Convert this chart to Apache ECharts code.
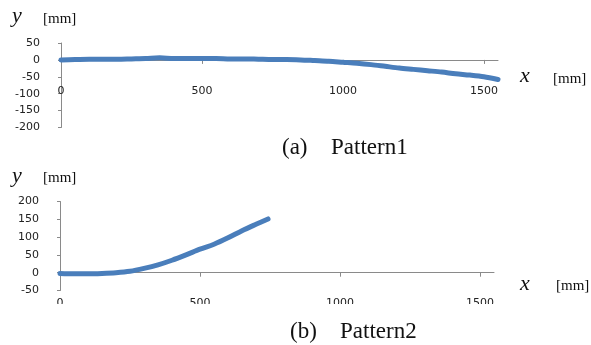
<!DOCTYPE html>
<html>
<head>
<meta charset="utf-8">
<script src="https://cdn.jsdelivr.net/npm/echarts@6/dist/echarts.min.js"></script>
<style>
html,body{margin:0;padding:0;background:#fff;}
#c{width:591px;height:345px;}
</style>
</head>
<body>
<div id="c"></div>
<script>
// Pattern1 (a)
var xA = [0, 50, 100, 150, 200, 250, 300, 350, 400, 450, 500, 550, 600, 650, 700, 750, 800, 850, 900, 950, 1000, 1050, 1100, 1150, 1200, 1250, 1300, 1350, 1400, 1450, 1500, 1550];
var yA = [0, 1, 2, 2, 2, 3, 4, 6, 4, 4, 4, 4, 3, 3, 2, 1, 1, 0, -2, -4, -7, -10, -14, -19, -24, -28, -32, -36, -41, -45, -50, -58];
// Pattern2 (b)
var xB = [0, 50, 100, 150, 200, 250, 300, 350, 400, 450, 500, 550, 600, 650, 700, 743];
var yB = [-2, -3, -3, -2, 0, 4, 12, 22, 35, 50, 66, 80, 98, 118, 136, 151];
var xTicks = [0, 500, 1000, 1500];
var yTicksA = [-200, -150, -100, -50, 0, 50];
var yTicksB = [-50, 0, 50, 100, 150, 200];

function pairs(xs, ys) { return xs.map(function (x, i) { return [x, ys[i]]; }); }

var axisCol = '#8a8a8a';
var lblStyle = { color: '#222', fontSize: 11, fontFamily: 'DejaVu Sans', formatter: function (v) { return String(v); } };

function xAx(gi, margin) {
  return {
    type: 'value', gridIndex: gi, min: 0, max: 1550,
    axisLine: { onZero: true, lineStyle: { color: axisCol, width: 1 } },
    axisTick: { show: true, length: 4, customValues: xTicks, lineStyle: { color: axisCol } },
    axisLabel: Object.assign({ margin: margin, customValues: xTicks }, lblStyle),
    splitLine: { show: false }
  };
}
function yAx(gi, mn, mx) {
  return {
    type: 'value', gridIndex: gi, min: mn, max: mx, interval: 50,
    axisLine: { show: true, onZero: false, lineStyle: { color: axisCol, width: 1 } },
    axisTick: { show: true, length: 3, lineStyle: { color: axisCol } },
    axisLabel: Object.assign({ margin: 21 }, lblStyle),
    splitLine: { show: false }
  };
}

var serif = 'Liberation Serif';
function txt(s, x, y, size, italic) {
  return {
    type: 'text', z: 100,
    style: { text: s, x: x, y: y, fill: '#111', fontSize: size, fontFamily: serif,
      fontStyle: italic ? 'italic' : 'normal', textAlign: 'left', textVerticalAlign: 'middle', verticalAlign: 'middle' }
  };
}

var chart = echarts.init(document.getElementById('c'), null, { renderer: 'canvas' });
chart.setOption({
  animation: false,
  backgroundColor: '#fff',
  grid: [
    { left: 61, top: 43, width: 437, height: 84.5 },
    { left: 60, top: 201.5, width: 434, height: 89 }
  ],
  xAxis: [xAx(0, -42), xAx(1, 7)],
  yAxis: [yAx(0, -200, 50), yAx(1, -50, 200)],
  series: [
    { type: 'line', xAxisIndex: 0, yAxisIndex: 0, data: pairs(xA, yA), showSymbol: false, smooth: 0.3,
      lineStyle: { color: '#4a7ebb', width: 5, cap: 'round', join: 'round' } },
    { type: 'line', xAxisIndex: 1, yAxisIndex: 1, data: pairs(xB, yB), showSymbol: false, smooth: 0.3,
      lineStyle: { color: '#4a7ebb', width: 5, cap: 'round', join: 'round' } }
  ],
  graphic: [
    { type: 'rect', z: 90, shape: { x: 0, y: 131, width: 58, height: 6 }, style: { fill: '#fff' } },
    { type: 'rect', z: 90, shape: { x: 40, y: 304, width: 470, height: 8 }, style: { fill: '#fff' } },
    txt('y', 12, 16, 22, true),
    txt('[mm]', 43, 19, 15, false),
    txt('x', 520, 76, 22, true),
    txt('[mm]', 553, 79, 15, false),
    txt('(a)', 282, 148, 23, false),
    txt('Pattern1', 331, 148, 23, false),
    txt('(b)', 290, 332, 23, false),
    txt('Pattern2', 340, 332, 23, false),
    txt('y', 12, 176, 22, true),
    txt('[mm]', 43, 178, 15, false),
    txt('x', 520, 284, 22, true),
    txt('[mm]', 556, 286, 15, false)
  ]
});
</script>
</body>
</html>
